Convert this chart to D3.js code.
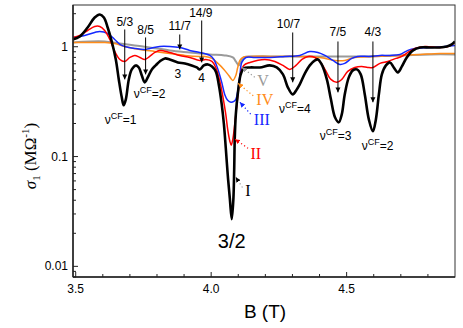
<!DOCTYPE html>
<html><head><meta charset="utf-8">
<script src="https://cdn.jsdelivr.net/npm/d3@7"></script>
<style>body{margin:0;background:#fff} svg{display:block}</style>
</head><body>
<svg id="c" width="463" height="328"></svg>
<script>
// ---- data (B in tesla, sigma in MOhm^-1) ----
const bI = [3.489,3.515,3.544,3.570,3.589,3.604,3.618,3.633,3.648,3.659,3.670,3.677,3.685,3.696,3.707,3.722,3.733,3.744,3.755,3.766,3.781,3.795,3.810,3.829,3.847,3.877,3.903,3.928,3.947,3.958,3.973,3.988,4.003,4.017,4.028,4.039,4.047,4.054,4.061,4.069,4.076,4.082,4.085,4.087,4.091,4.098,4.109,4.120,4.143,4.180,4.216,4.242,4.265,4.283,4.301,4.316,4.327,4.346,4.364,4.383,4.394,4.408,4.427,4.442,4.457,4.471,4.482,4.493,4.508,4.523,4.538,4.552,4.567,4.582,4.597,4.608,4.619,4.630,4.645,4.660,4.674,4.689,4.704,4.722,4.745,4.771,4.807,4.844,4.870,4.888,4.900];
const sI = [1.165,1.240,1.498,1.846,1.966,1.846,1.498,1.117,0.766,0.504,0.346,0.293,0.332,0.504,0.622,0.676,0.648,0.548,0.474,0.526,0.622,0.676,0.735,0.783,0.766,0.720,0.705,0.676,0.648,0.622,0.676,0.690,0.662,0.596,0.454,0.299,0.197,0.119,0.069,0.0412,0.0269,0.0412,0.0766,0.144,0.242,0.368,0.560,0.635,0.648,0.648,0.676,0.648,0.560,0.427,0.368,0.409,0.454,0.572,0.676,0.751,0.766,0.690,0.504,0.332,0.228,0.205,0.242,0.368,0.526,0.609,0.622,0.560,0.368,0.218,0.170,0.218,0.368,0.560,0.676,0.720,0.648,0.584,0.662,0.799,0.926,0.985,0.985,0.985,1.006,1.049,1.117];

const bII = [3.489,3.515,3.544,3.570,3.589,3.607,3.626,3.644,3.663,3.681,3.700,3.718,3.737,3.755,3.773,3.792,3.810,3.847,3.884,3.921,3.958,3.980,4.003,4.017,4.032,4.043,4.054,4.061,4.069,4.074,4.080,4.087,4.095,4.102,4.109,4.120,4.143,4.198,4.235,4.265,4.290,4.313,4.335,4.357,4.383,4.401,4.420,4.442,4.464,4.482,4.504,4.530,4.556,4.578,4.597,4.623,4.652,4.682,4.704,4.726,4.752,4.789,4.844,4.874,4.900];
const sII = [1.215,1.267,1.406,1.530,1.530,1.406,1.165,0.906,0.766,0.735,0.799,0.834,0.799,0.766,0.816,0.887,0.926,0.887,0.834,0.799,0.751,0.766,0.735,0.648,0.484,0.353,0.242,0.177,0.138,0.127,0.144,0.197,0.299,0.427,0.572,0.676,0.720,0.766,0.735,0.676,0.622,0.676,0.766,0.816,0.799,0.735,0.622,0.504,0.474,0.504,0.596,0.648,0.662,0.648,0.648,0.705,0.735,0.783,0.816,0.887,0.965,1.006,0.985,1.006,1.094];

const bIII = [3.489,3.533,3.570,3.589,3.618,3.644,3.663,3.681,3.718,3.755,3.773,3.810,3.847,3.884,3.921,3.958,3.995,4.010,4.025,4.039,4.050,4.061,4.073,4.084,4.091,4.098,4.106,4.113,4.128,4.162,4.217,4.272,4.327,4.364,4.394,4.420,4.449,4.475,4.493,4.519,4.541,4.586,4.623,4.660,4.697,4.726,4.752,4.807,4.863,4.900];
const sIII = [1.215,1.267,1.349,1.378,1.321,1.165,1.049,1.006,0.965,0.945,0.965,1.006,1.006,0.985,0.926,0.887,0.834,0.766,0.622,0.474,0.368,0.325,0.312,0.318,0.332,0.392,0.548,0.720,0.799,0.799,0.799,0.816,0.834,0.906,0.887,0.834,0.751,0.690,0.705,0.783,0.816,0.816,0.834,0.834,0.851,0.926,0.965,0.985,1.006,1.028];

const bIV = [3.489,3.552,3.607,3.644,3.681,3.737,3.792,3.847,3.903,3.958,3.977,4.003,4.025,4.047,4.065,4.080,4.091,4.098,4.106,4.117,4.143,4.216,4.327,4.401,4.457,4.493,4.530,4.604,4.697,4.771,4.844,4.900];
const sIV = [1.094,1.094,1.094,1.072,1.006,0.945,0.906,0.869,0.834,0.816,0.816,0.783,0.705,0.622,0.548,0.494,0.548,0.648,0.751,0.799,0.816,0.816,0.816,0.799,0.751,0.751,0.799,0.816,0.834,0.851,0.869,0.869];

const bV = [3.489,3.552,3.607,3.663,3.718,3.773,3.847,3.921,3.995,4.050,4.080,4.091,4.102,4.110,4.120,4.162,4.254,4.401,4.549,4.697,4.807,4.900];
const sV = [1.094,1.117,1.117,1.072,1.028,0.985,0.926,0.887,0.851,0.834,0.799,0.735,0.676,0.735,0.799,0.816,0.816,0.816,0.816,0.834,0.851,0.851];

// annotations
const fracLabels = ["5/3","8/5","11/7","14/9","10/7","7/5","4/3"];
const fracB      = [3.681,3.758,3.884,3.965,4.301,4.468,4.597];
const fracTextB  = [3.681,3.758,3.884,3.962,4.285,4.468,4.597];
const fracTextS  = [1.56,1.32,1.41,1.85,1.47,1.24,1.24];
const fracTopS   = [1.437,1.215,1.293,1.734,1.349,1.117,1.117];
const fracTipS   = [0.504,0.560,0.945,0.720,0.474,0.384,0.312];

const nuValues = ["1","2","4","3","2"];
const nuB      = [3.607,3.714,4.250,4.401,4.556];
const nuS      = [0.197,0.339,0.248,0.141,0.114];

const fillLabels = ["3","4"];
const fillB      = [3.877,3.965];
const fillS      = [0.515,0.474];

const romanLabels = ["I","II","III","IV","V"];
const romanB      = [4.136,4.165,4.187,4.198,4.191];
const romanS      = [0.0436,0.0945,0.193,0.293,0.436];
const leadFromB   = [4.091,4.088,4.106,4.099,4.114];
const leadFromS   = [0.0649,0.144,0.312,0.464,0.647];
const leadToB     = [4.117,4.136,4.150,4.158,4.166];
const leadToS     = [0.0515,0.119,0.237,0.353,0.515];

const xMajor = [3.5,4.0,4.5];
const xMajorLabels = ["3.5","4.0","4.5"];
const yMajor = [0.01,0.1,1];
const yMajorLabels = ["0.01","0.1","1"];

const colors = {I:"#000000",II:"#ff0000",III:"#1428ff",IV:"#ff8c1a",V:"#9a9a9a"};

// ---- layout ----
const W=463,H=328, m={l:73,t:5,r:8,b:51};
const svg=d3.select("#c");
const x=d3.scaleLinear().domain([3.49,4.9]).range([m.l,W-m.r]);
const y=d3.scaleLog().domain([0.008,2.4]).range([H-m.b,m.t]);

const defs=svg.append("defs");
function mk(id,col,w,h){
  defs.append("marker").attr("id",id).attr("viewBox","0 0 10 10").attr("refX",10).attr("refY",5)
   .attr("markerUnits","userSpaceOnUse").attr("markerWidth",w).attr("markerHeight",h)
   .attr("orient","auto-start-reverse").append("path").attr("d","M0,0L10,5L0,10Z").attr("fill",col);
}
mk("arrK","#000",5,6);
["I","II","III","IV","V"].forEach(k=>mk("arr"+k,colors[k],5,5));

const line=d3.line().x(d=>x(d[0])).y(d=>y(d[1])).curve(d3.curveCatmullRom.alpha(0.5));
const series=[["V",bV,sV,2],["IV",bIV,sIV,1.5],["III",bIII,sIII,1.5],["II",bII,sII,1.5],["I",bI,sI,2.6]];
const g=svg.append("g");
g.append("clipPath").attr("id","clip").append("rect").attr("x",m.l).attr("y",m.t).attr("width",W-m.l-m.r).attr("height",H-m.t-m.b);
const plot=g.append("g").attr("clip-path","url(#clip)");
series.forEach(([k,bs,ss,w])=>{
  plot.append("path").datum(bs.map((b,i)=>[b,ss[i]])).attr("d",line)
   .attr("fill","none").attr("stroke",colors[k]).attr("stroke-width",w).attr("stroke-linejoin","round");
});

// axes
const xMinor=d3.range(36,49).map(v=>v/10).filter(v=>!xMajor.some(M=>Math.abs(M-v)<1e-6));
const yMinor=[];
[0.01,0.1,1].forEach(d=>{for(let k=2;k<=9;k++){const v=d*k; if(v<=2.4) yMinor.push(v);}});
yMinor.push(0.008,0.009);
const ax=svg.append("g").attr("stroke","#222").attr("stroke-width",1);
ax.append("rect").attr("x",m.l).attr("y",m.t).attr("width",W-m.l-m.r).attr("height",H-m.t-m.b).attr("fill","none").attr("stroke","#333");
ax.append("line").attr("x1",m.l).attr("x2",W-m.r).attr("y1",H-m.b).attr("y2",H-m.b).attr("stroke-width",1.5);
ax.append("line").attr("x1",m.l).attr("x2",m.l).attr("y1",m.t).attr("y2",H-m.b).attr("stroke-width",1.5);
xMajor.forEach(v=>ax.append("line").attr("x1",x(v)).attr("x2",x(v)).attr("y1",H-m.b).attr("y2",H-m.b-5));
xMinor.forEach(v=>ax.append("line").attr("x1",x(v)).attr("x2",x(v)).attr("y1",H-m.b).attr("y2",H-m.b-3));
yMajor.forEach(v=>ax.append("line").attr("x1",m.l).attr("x2",m.l+5).attr("y1",y(v)).attr("y2",y(v)));
yMinor.forEach(v=>ax.append("line").attr("x1",m.l).attr("x2",m.l+3).attr("y1",y(v)).attr("y2",y(v)));

const sans="'Liberation Sans', Arial, sans-serif", serif="'Liberation Serif','Times New Roman',serif";
xMajor.forEach((v,i)=>svg.append("text").attr("x",x(v)).attr("y",H-m.b+16).attr("text-anchor","middle")
  .attr("font-family",sans).attr("font-size",12).text(xMajorLabels[i]));
yMajor.forEach((v,i)=>svg.append("text").attr("x",m.l-5).attr("y",y(v)+4).attr("text-anchor","end")
  .attr("font-family",sans).attr("font-size",12).text(yMajorLabels[i]));

svg.append("text").attr("x",265).attr("y",318).attr("text-anchor","middle").attr("font-family",sans).attr("font-size",19).text("B (T)");
const yl=svg.append("text").attr("transform","translate(36,156) rotate(-90)").attr("text-anchor","middle")
  .attr("font-family",serif).attr("font-size",17);
yl.append("tspan").attr("font-style","italic").text("σ");
yl.append("tspan").attr("font-size",11).attr("dy",4).text("1");
yl.append("tspan").attr("dy",-4).text(" (MΩ");
yl.append("tspan").attr("font-size",11).attr("dy",-7).text("-1");
yl.append("tspan").attr("dy",7).text(")");

// fraction arrows
fracLabels.forEach((t,i)=>{
  svg.append("text").attr("x",x(fracTextB[i])).attr("y",y(fracTextS[i])).attr("text-anchor","middle")
    .attr("font-family",sans).attr("font-size",12).text(t);
  svg.append("line").attr("x1",x(fracB[i])).attr("x2",x(fracB[i])).attr("y1",y(fracTopS[i])).attr("y2",y(fracTipS[i]))
    .attr("stroke","#000").attr("stroke-width",1).attr("marker-end","url(#arrK)");
});
fillLabels.forEach((t,i)=>svg.append("text").attr("x",x(fillB[i])).attr("y",y(fillS[i])).attr("text-anchor","middle")
  .attr("font-family",sans).attr("font-size",12).text(t));
nuValues.forEach((v,i)=>{
  const t=svg.append("text").attr("x",x(nuB[i])).attr("y",y(nuS[i])).attr("font-family",sans).attr("font-size",12);
  t.append("tspan").text("ν");
  t.append("tspan").attr("font-size",9).attr("dy",-5).text("CF");
  t.append("tspan").attr("dy",5).text("="+v);
});
svg.append("text").attr("x",x(4.076)).attr("y",y(0.01466)).attr("text-anchor","middle").attr("font-family",sans).attr("font-size",20).text("3/2");

romanLabels.forEach((t,i)=>{
  const k=t, col = k==="I" ? "#000" : colors[k];
  svg.append("line").attr("x1",x(leadFromB[i])).attr("y1",y(leadFromS[i])).attr("x2",x(leadToB[i])).attr("y2",y(leadToS[i]))
    .attr("stroke", k==="I" ? "#999" : colors[k]).attr("stroke-width",1.2).attr("stroke-dasharray","1.2,2.5")
    .attr("marker-start","url(#arr"+k+")");
  svg.append("text").attr("x",x(romanB[i])).attr("y",y(romanS[i])).attr("text-anchor","middle")
    .attr("font-family",serif).attr("font-size",16).attr("fill",col).text(t);
});
</script>
</body></html>
